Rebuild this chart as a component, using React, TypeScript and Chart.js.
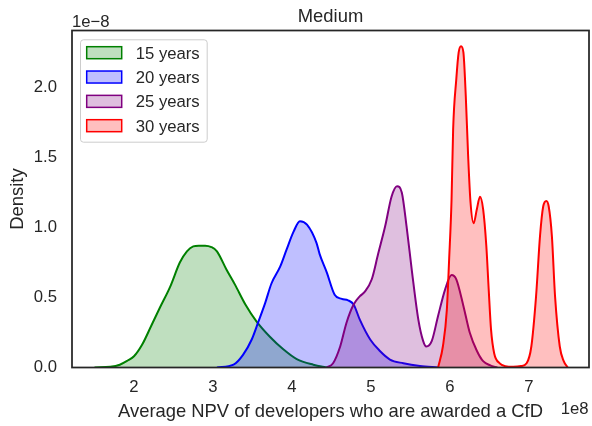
import React, { useEffect, useRef } from 'react';
import { Chart, registerables } from 'chart.js';

Chart.register(...registerables);

const chartTitle = 'Medium';
const xAxisTitle = 'Average NPV of developers who are awarded a CfD';
const yAxisTitle = 'Density';
const xOffsetText = '1e8';
const yOffsetText = '1e\u22128';

const seriesLabels = ['15 years', '20 years', '25 years', '30 years'];
const lineColors = ['#008000', '#0000ff', '#800080', '#ff0000'];
const fillColors = [
  'rgba(0,128,0,0.25)',
  'rgba(0,0,255,0.25)',
  'rgba(128,0,128,0.25)',
  'rgba(255,0,0,0.25)',
];

// x in units of 1e8, density in units of 1e-8
const npv15 = [1.50, 1.70, 1.82, 1.92, 2.00, 2.10, 2.22, 2.33, 2.46, 2.58, 2.67, 2.75, 2.82, 2.90, 2.98, 3.05, 3.17, 3.28, 3.41, 3.55, 3.72, 3.89, 4.06, 4.27, 4.45];
const density15 = [0.00, 0.005, 0.02, 0.05, 0.08, 0.16, 0.30, 0.43, 0.58, 0.75, 0.83, 0.865, 0.87, 0.87, 0.86, 0.83, 0.70, 0.59, 0.45, 0.33, 0.22, 0.13, 0.06, 0.02, 0.00];

const npv20 = [3.05, 3.26, 3.38, 3.49, 3.57, 3.66, 3.74, 3.85, 3.93, 4.02, 4.10, 4.19, 4.31, 4.35, 4.44, 4.54, 4.63, 4.71, 4.78, 4.86, 4.99, 5.11, 5.24, 5.41, 5.62, 5.85];
const density20 = [0.00, 0.02, 0.09, 0.20, 0.32, 0.46, 0.60, 0.72, 0.84, 0.97, 1.045, 1.02, 0.89, 0.81, 0.68, 0.52, 0.49, 0.48, 0.45, 0.34, 0.20, 0.12, 0.057, 0.03, 0.01, 0.00];

const npv25 = [4.44, 4.52, 4.61, 4.69, 4.78, 4.86, 4.92, 5.01, 5.09, 5.18, 5.26, 5.33, 5.39, 5.45, 5.52, 5.60, 5.66, 5.70, 5.77, 5.85, 5.94, 6.02, 6.08, 6.17, 6.25, 6.34, 6.42, 6.51, 6.60];
const density25 = [0.00, 0.03, 0.15, 0.32, 0.45, 0.51, 0.54, 0.63, 0.81, 1.01, 1.22, 1.295, 1.25, 1.01, 0.68, 0.34, 0.19, 0.15, 0.19, 0.37, 0.56, 0.66, 0.63, 0.44, 0.25, 0.12, 0.045, 0.015, 0.00];

const npv30 = [5.85, 5.91, 5.96, 5.99, 6.02, 6.04, 6.08, 6.11, 6.14, 6.17, 6.20, 6.23, 6.26, 6.30, 6.34, 6.38, 6.42, 6.46, 6.49, 6.52, 6.56, 6.63, 6.70, 6.80, 6.90, 6.97, 7.03, 7.09, 7.14, 7.18, 7.22, 7.25, 7.29, 7.33, 7.39, 7.44, 7.49];
const density30 = [0.00, 0.15, 0.41, 0.78, 1.20, 1.70, 2.06, 2.25, 2.295, 2.25, 1.94, 1.51, 1.18, 1.03, 1.13, 1.22, 1.13, 0.87, 0.56, 0.27, 0.10, 0.03, 0.01, 0.005, 0.01, 0.03, 0.15, 0.51, 0.94, 1.15, 1.19, 1.15, 0.94, 0.51, 0.15, 0.045, 0.00];

const xValues = [npv15, npv20, npv25, npv30];
const yValues = [density15, density20, density25, density30];

const xTicks = [2, 3, 4, 5, 6, 7];
const yTicks = [0, 0.5, 1, 1.5, 2];

const FONT = "'Liberation Sans', Arial, sans-serif";
const TEXT = '#262626';

const decorPlugin = {
  id: 'decor',
  afterDraw(chart: any) {
    const ctx = chart.ctx as CanvasRenderingContext2D;
    const a = chart.chartArea;
    const cx = (a.left + a.right) / 2;
    ctx.save();
    // frame
    ctx.strokeStyle = TEXT;
    ctx.lineWidth = 1.75;
    ctx.strokeRect(a.left, a.top, a.right - a.left, a.bottom - a.top);

    // legend
    const lx = a.left + 8;
    const ly = a.top + 8.8;
    const lw = 126.7;
    const lh = 102.4;
    ctx.beginPath();
    ctx.roundRect(lx + 0.5, ly + 0.5, lw, lh, 3);
    ctx.fillStyle = 'rgba(255,255,255,0.8)';
    ctx.fill();
    ctx.strokeStyle = '#cccccc';
    ctx.lineWidth = 1;
    ctx.stroke();
    ctx.font = `16.7px ${FONT}`;
    ctx.textAlign = 'left';
    ctx.textBaseline = 'alphabetic';
    seriesLabels.forEach((lab, i) => {
      const rowC = ly + 13.4 + i * 24.33;
      ctx.fillStyle = '#ffffff';
      ctx.fillRect(lx + 6.7, rowC - 6, 35, 12);
      ctx.fillStyle = fillColors[i];
      ctx.fillRect(lx + 6.7, rowC - 6, 35, 12);
      ctx.strokeStyle = lineColors[i];
      ctx.lineWidth = 1.5;
      ctx.strokeRect(lx + 6.7, rowC - 6, 35, 12);
      ctx.fillStyle = TEXT;
      ctx.fillText(lab, lx + 55.7, rowC + 6);
    });

    // texts
    ctx.fillStyle = TEXT;
    ctx.font = `18.4px ${FONT}`;
    ctx.textAlign = 'center';
    ctx.fillText(chartTitle, cx, 21.7);
    ctx.fillText(xAxisTitle, cx, 416.5);
    ctx.save();
    ctx.translate(23, (a.top + a.bottom) / 2);
    ctx.rotate(-Math.PI / 2);
    ctx.fillText(yAxisTitle, 0, 0);
    ctx.restore();
    ctx.font = `16.7px ${FONT}`;
    ctx.textAlign = 'left';
    ctx.fillText(yOffsetText, a.left, 26.7);
    ctx.textAlign = 'right';
    ctx.fillText(xOffsetText, 588.5, 414);
    ctx.restore();
  },
};

export default function App() {
  const ref = useRef<HTMLCanvasElement | null>(null);
  useEffect(() => {
    if (!ref.current) return;
    const datasets = seriesLabels.map((lab, i) => ({
      label: lab,
      data: xValues[i].map((x, j) => ({ x, y: yValues[i][j] })),
      borderColor: lineColors[i],
      backgroundColor: fillColors[i],
      borderWidth: 2,
      pointRadius: 0,
      fill: 'origin',
      cubicInterpolationMode: 'monotone' as const,
      order: seriesLabels.length - i,
    }));
    const chart = new Chart(ref.current, {
      type: 'line',
      data: { datasets },
      options: {
        animation: false,
        responsive: false,
        devicePixelRatio: 1,
        layout: { padding: { top: 30.5, right: 3, left: 0, bottom: 0 } },
        plugins: { legend: { display: false }, title: { display: false }, tooltip: { enabled: false } },
        scales: {
          x: {
            type: 'linear',
            min: 1.215,
            max: 7.76,
            grid: { display: false, drawTicks: false },
            border: { display: false },
            ticks: {
              color: TEXT,
              font: { family: FONT, size: 16.7 },
              padding: 10,
              maxRotation: 0,
              callback: (v: any) => String(v),
            },
            afterBuildTicks: (s: any) => {
              s.ticks = xTicks.map((v) => ({ value: v }));
            },
            afterFit: (s: any) => {
              s.height = 58.5;
            },
          },
          y: {
            type: 'linear',
            min: 0,
            max: 2.407,
            grid: { display: false, drawTicks: false },
            border: { display: false },
            ticks: {
              color: TEXT,
              font: { family: FONT, size: 16.7 },
              padding: 15,
              callback: (v: any) => Number(v).toFixed(1),
            },
            afterBuildTicks: (s: any) => {
              s.ticks = yTicks.map((v) => ({ value: v }));
            },
            afterFit: (s: any) => {
              s.width = 72;
            },
          },
        },
      },
      plugins: [decorPlugin],
    });
    return () => chart.destroy();
  }, []);
  return (
    <div style={{ position: 'fixed', left: 0, top: 0, width: 592, height: 426, background: '#fff' }}>
      <canvas ref={ref} width={592} height={426} style={{ display: 'block' }} />
    </div>
  );
}
